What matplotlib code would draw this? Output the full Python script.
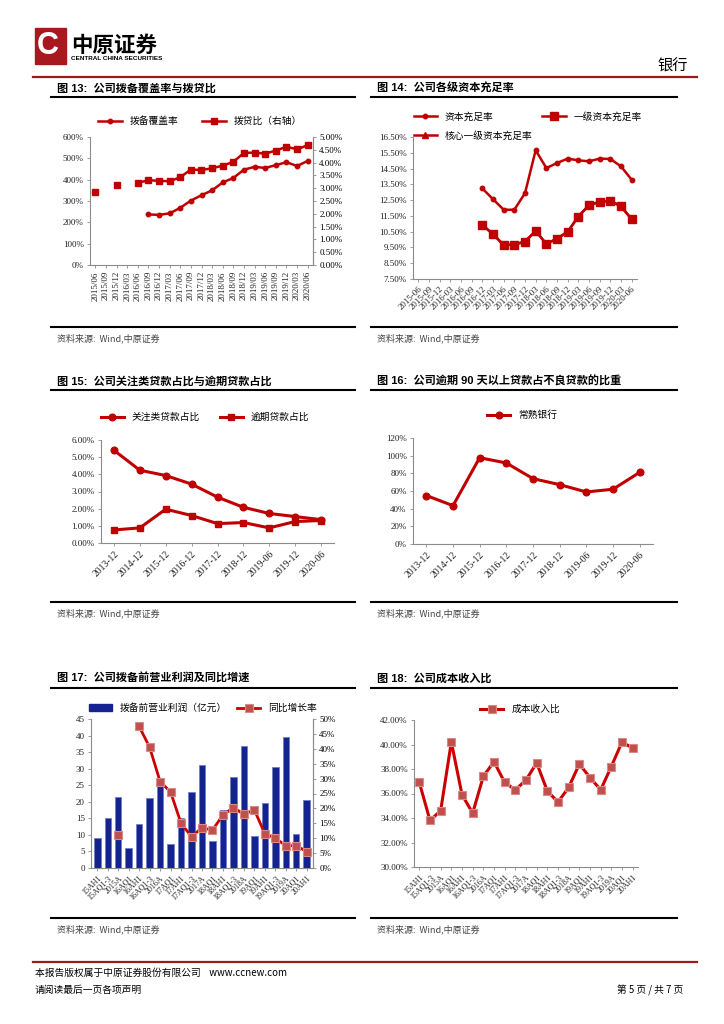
import numpy as np
import matplotlib
matplotlib.use("Agg")
import matplotlib.pyplot as plt
from matplotlib.patches import Rectangle, Patch
from matplotlib.lines import Line2D

plt.rcParams['font.family'] = ['Liberation Serif', 'Noto Sans CJK SC', 'DejaVu Sans']
plt.rcParams['axes.unicode_minus'] = False

# ---- data ----
q_dates = ["2015/06", "2015/09", "2015/12", "2016/03", "2016/06", "2016/09", "2016/12",
           "2017/03", "2017/06", "2017/09", "2017/12", "2018/03", "2018/06", "2018/09",
           "2018/12", "2019/03", "2019/06", "2019/09", "2019/12", "2020/03", "2020/06"]
nan = np.nan
coverage = [nan, nan, nan, nan, nan, 237, 235, 242, 268, 302, 327, 350, 387, 408,
            447, 460, 455, 468, 482, 464, 488]                       # 拨备覆盖率 %
prov_loan = [2.86, nan, 3.14, nan, 3.21, 3.31, 3.29, 3.27, 3.43, 3.73, 3.71, 3.78, 3.88,
             4.03, 4.38, 4.39, 4.35, 4.47, 4.62, 4.52, 4.68]        # 拨贷比 %

cap_dates = [d.replace("/", "-") for d in q_dates]
car = [nan] * 6 + [13.24, 12.56, 11.89, 11.89, 12.94, 15.66, 14.53, 14.85, 15.13,
                   15.02, 14.96, 15.13, 15.11, 14.64, 13.79]
tier1 = [nan] * 6 + [10.93, 10.34, 9.66, 9.68, 9.87, 10.55, 9.72, 10.06, 10.49,
                     11.46, 12.18, 12.39, 12.46, 12.10, 11.29]
core_tier1 = [nan] * 6 + [10.93, 10.34, 9.66, 9.68, 9.87, 10.55, 9.72, 10.06, 10.49,
                          11.46, 12.18, 12.39, 12.46, 12.10, 11.29]

y_dates = ["2013-12", "2014-12", "2015-12", "2016-12", "2017-12", "2018-12",
           "2019-06", "2019-12", "2020-06"]
special_mention = [5.40, 4.24, 3.93, 3.43, 2.67, 2.08, 1.72, 1.54, 1.36]
overdue = [0.76, 0.88, 1.97, 1.60, 1.13, 1.19, 0.88, 1.25, 1.31]
overdue90_npl = [54.9, 43.4, 97.7, 91.7, 74.0, 67.2, 58.9, 62.0, 81.1]

p_labels = ["15AH1", "15AQ1-3", "2015A", "16AQ1", "16AH1", "16AQ1-3", "2016A",
            "17AQ1", "17AH1", "17AQ1-3", "2017A", "18AQ1", "18AH1", "18AQ1-3",
            "2018A", "19AQ1", "19AH1", "19AQ1-3", "2019A", "20AQ1", "20AH1"]
ppop = [9.0, 15.0, 21.5, 6.0, 13.2, 21.0, 26.0, 7.3, 15.0, 23.0, 31.2, 8.1, 17.6,
        27.6, 36.8, 9.7, 19.6, 30.4, 39.5, 10.3, 20.6]               # 亿元
ppop_yoy = [nan, nan, 11.0, nan, 47.5, 40.5, 29.0, 25.5, 15.0, 10.5, 13.5, 12.7,
            17.8, 20.3, 18.0, 19.5, 11.5, 10.0, 7.5, 7.5, 5.5]       # %
cost_income = [36.9, 33.8, 34.6, 40.2, 35.9, 34.4, 37.4, 38.6, 36.9, 36.3, 37.1,
               38.5, 36.2, 35.3, 36.5, 38.4, 37.3, 36.3, 38.2, 40.2, 39.7]

W, H = 724, 1024
RED = "#C00000"
GRAY = "#8C8C8C"
CJK = ['Noto Sans CJK SC', 'DejaVu Sans']
TITLEF = ['Liberation Sans', 'Noto Sans CJK SC', 'DejaVu Sans']

fig = plt.figure(figsize=(W / 100, H / 100), dpi=100)


def px_axes(l, t, r, b):
    return fig.add_axes([l / W, 1 - b / H, (r - l) / W, (b - t) / H])


def ftext(x, y, s, **kw):
    fig.text(x / W, 1 - y / H, s, **kw)


def hline(x0, x1, y, color="black", lw=1.5):
    fig.add_artist(Line2D([x0 / W, x1 / W], [1 - y / H, 1 - y / H], color=color, lw=lw))


def style(ax):
    for s in ["top", "right"]:
        ax.spines[s].set_visible(False)
    ax.spines["left"].set_color(GRAY)
    ax.spines["bottom"].set_color(GRAY)
    ax.tick_params(axis="both", labelsize=6.5, colors="#222222", length=2.5,
                   width=0.6, pad=2)
    ax.tick_params(axis="both", color=GRAY)


def legend_at(ax, handles, labels, cx, cy, ncol, loc="center", **kw):
    ax.legend(handles, labels, loc=loc, bbox_to_anchor=(cx / W, 1 - cy / H),
              bbox_transform=fig.transFigure, ncol=ncol, frameon=False,
              prop={"family": CJK, "size": 7}, handlelength=2.4, **kw)


def pct(dec):
    return lambda v, p: f"{v:.{dec}f}%"


# ---- header ----
fig.add_artist(Rectangle((35 / W, 1 - 64 / H), 31 / W, 36 / H, color="#A8191F"))
ftext(48, 46, "C", color="white", fontsize=22, fontweight="bold", family=TITLEF,
      ha="center", va="center")
ftext(71, 45, "中原证券", fontsize=15.5, fontweight="bold", family=CJK, va="center")
ftext(71, 59, "CENTRAL CHINA SECURITIES", fontsize=4.6, fontweight="bold",
      family=TITLEF, va="center")
ftext(688, 66, "银行", fontsize=11, family=CJK, ha="right", va="center")
hline(33, 697, 77, color="#9E1B1B", lw=1.6)

# ---- titles / sources ----
titles = [(57, 88, "图 13:  公司拨备覆盖率与拨贷比"), (377, 88, "图 14:  公司各级资本充足率"),
          (57, 381, "图 15:  公司关注类贷款占比与逾期贷款占比"),
          (377, 381, "图 16:  公司逾期 90 天以上贷款占不良贷款的比重"),
          (57, 678, "图 17:  公司拨备前营业利润及同比增速"), (377, 678, "图 18:  公司成本收入比")]
for x, y, s in titles:
    ftext(x, y, s, fontsize=8, fontweight="bold", family=TITLEF, va="center")
for yl in [97, 390, 688]:
    hline(51, 355, yl)
    hline(371, 677, yl)
for yl in [327, 602, 918]:
    hline(51, 355, yl)
    hline(371, 677, yl)
    for x in [57, 377]:
        ftext(x, yl + 11, "资料来源:  Wind,中原证券", fontsize=6.5, family=CJK,
              color="#444444", va="center")

# ---- chart 13 ----
x21 = np.arange(len(q_dates))
ax = px_axes(90, 137, 313, 265)
ax2 = ax.twinx()
style(ax)
ax.spines["right"].set_visible(True)
ax.spines["right"].set_color(GRAY)
l2, = ax2.plot(x21, prov_loan, color=RED, lw=1.8, marker="s", ms=4.2)
l1, = ax.plot(x21, coverage, color=RED, lw=1.8, marker="o", ms=3.2)
ax.set_ylim(0, 600)
ax.set_yticks(np.arange(0, 601, 100))
ax.yaxis.set_major_formatter(plt.FuncFormatter(lambda v, p: f"{v:.0f}%"))
ax2.set_ylim(0, 5)
ax2.set_yticks(np.arange(0, 5.01, 0.5))
ax2.yaxis.set_major_formatter(plt.FuncFormatter(pct(2)))
for s in ["top", "left", "bottom"]:
    ax2.spines[s].set_visible(False)
ax2.spines["right"].set_color(GRAY)
ax2.tick_params(labelsize=6.5, length=2.5, width=0.6, color=GRAY, pad=2)
ax.set_xlim(-0.5, 20.5)
ax.set_xticks(x21)
ax.set_xticklabels(q_dates, rotation=90, fontsize=6.5)
legend_at(ax, [l1, l2], ["拨备覆盖率", "拨贷比（右轴）"], 200, 121, 2, columnspacing=2.5)

# ---- chart 14 ----
ax = px_axes(413, 137, 637, 279)
style(ax)
h3, = ax.plot(x21, core_tier1, color=RED, lw=1.8, marker="^", ms=4)
h2, = ax.plot(x21, tier1, color=RED, lw=1.8, marker="s", ms=5.2)
h1, = ax.plot(x21, car, color=RED, lw=1.8, marker="o", ms=3.2)
ax.set_ylim(7.5, 16.5)
ax.set_yticks(np.arange(7.5, 16.51, 1.0))
ax.yaxis.set_major_formatter(plt.FuncFormatter(pct(2)))
ax.set_xlim(-0.5, 20.5)
ax.set_xticks(x21)
ax.set_xticklabels(cap_dates, rotation=45, ha="right", rotation_mode="anchor",
                   fontsize=6.3)
legend_at(ax, [h1, h3, h2], ["资本充足率", "核心一级资本充足率", "一级资本充足率"],
          405, 103, 2, loc="upper left", columnspacing=1.0, labelspacing=0.9)

# ---- chart 15 ----
x9 = np.arange(len(y_dates))
ax = px_axes(101, 440, 334, 543)
style(ax)
a1, = ax.plot(x9, special_mention, color=RED, lw=2.2, marker="o", ms=4.8)
a2, = ax.plot(x9, overdue, color=RED, lw=2.2, marker="s", ms=4.8)
ax.set_ylim(0, 6)
ax.set_yticks(np.arange(0, 6.01, 1))
ax.yaxis.set_major_formatter(plt.FuncFormatter(pct(2)))
ax.set_xlim(-0.5, 8.5)
ax.set_xticks(x9)
ax.set_xticklabels(y_dates, rotation=45, ha="right", rotation_mode="anchor", fontsize=7)
legend_at(ax, [a1, a2], ["关注类贷款占比", "逾期贷款占比"], 205, 417, 2, columnspacing=2.0)

# ---- chart 16 ----
ax = px_axes(413, 438, 653, 544)
style(ax)
b1, = ax.plot(x9, overdue90_npl, color=RED, lw=2.2, marker="o", ms=4.8)
ax.set_ylim(0, 120)
ax.set_yticks(np.arange(0, 121, 20))
ax.yaxis.set_major_formatter(plt.FuncFormatter(lambda v, p: f"{v:.0f}%"))
ax.set_xlim(-0.5, 8.5)
ax.set_xticks(x9)
ax.set_xticklabels(y_dates, rotation=45, ha="right", rotation_mode="anchor", fontsize=7)
legend_at(ax, [b1], ["常熟银行"], 522, 415, 1)

# ---- chart 17 ----
ax = px_axes(91, 719, 313, 868)
ax2 = ax.twinx()
style(ax)
ax.spines["right"].set_visible(True)
ax.spines["right"].set_color(GRAY)
bars = ax.bar(x21, ppop, width=0.62, color="#14238F", edgecolor="#6F7FC8", lw=0.6)
c1, = ax2.plot(x21, ppop_yoy, color="#CC0000", lw=2.0, marker="s", ms=6,
               markerfacecolor="#C0504D", markeredgecolor="#D98A88", markeredgewidth=0.8)
ax.set_ylim(0, 45)
ax.set_yticks(np.arange(0, 46, 5))
ax2.set_ylim(0, 50)
ax2.set_yticks(np.arange(0, 51, 5))
ax2.yaxis.set_major_formatter(plt.FuncFormatter(lambda v, p: f"{v:.0f}%"))
for s in ["top", "left", "bottom"]:
    ax2.spines[s].set_visible(False)
ax2.spines["right"].set_color(GRAY)
ax2.tick_params(labelsize=6.5, length=2.5, width=0.6, color=GRAY, pad=2)
ax.set_xlim(-0.6, 20.6)
ax.set_xticks(x21)
ax.set_xticklabels(p_labels, rotation=45, ha="right", rotation_mode="anchor", fontsize=5.8)
legend_at(ax, [Patch(color="#14238F"), c1], ["拨备前营业利润（亿元）", "同比增长率"],
          203, 708, 2, columnspacing=1.0)

# ---- chart 18 ----
ax = px_axes(414, 720, 638, 867)
style(ax)
d1, = ax.plot(x21, cost_income, color="#CC0000", lw=2.2, marker="s", ms=5.5,
              markerfacecolor="#C0504D", markeredgecolor="#D98A88", markeredgewidth=0.8)
ax.set_ylim(30, 42)
ax.set_yticks(np.arange(30, 42.01, 2))
ax.yaxis.set_major_formatter(plt.FuncFormatter(pct(2)))
ax.set_xlim(-0.5, 20.5)
ax.set_xticks(x21)
ax.set_xticklabels(p_labels, rotation=45, ha="right", rotation_mode="anchor", fontsize=5.8)
legend_at(ax, [d1], ["成本收入比"], 520, 709, 1)

# ---- footer ----
hline(33, 697, 962, color="#9E1B1B", lw=1.6)
ftext(35, 973, "本报告版权属于中原证券股份有限公司    www.ccnew.com", fontsize=7,
      family=CJK, va="center")
ftext(35, 990, "请阅读最后一页各项声明", fontsize=7, family=CJK, va="center")
ftext(683, 990, "第 5 页 / 共 7 页", fontsize=7, family=CJK, va="center", ha="right")

fig.savefig("out.png", dpi=100)
